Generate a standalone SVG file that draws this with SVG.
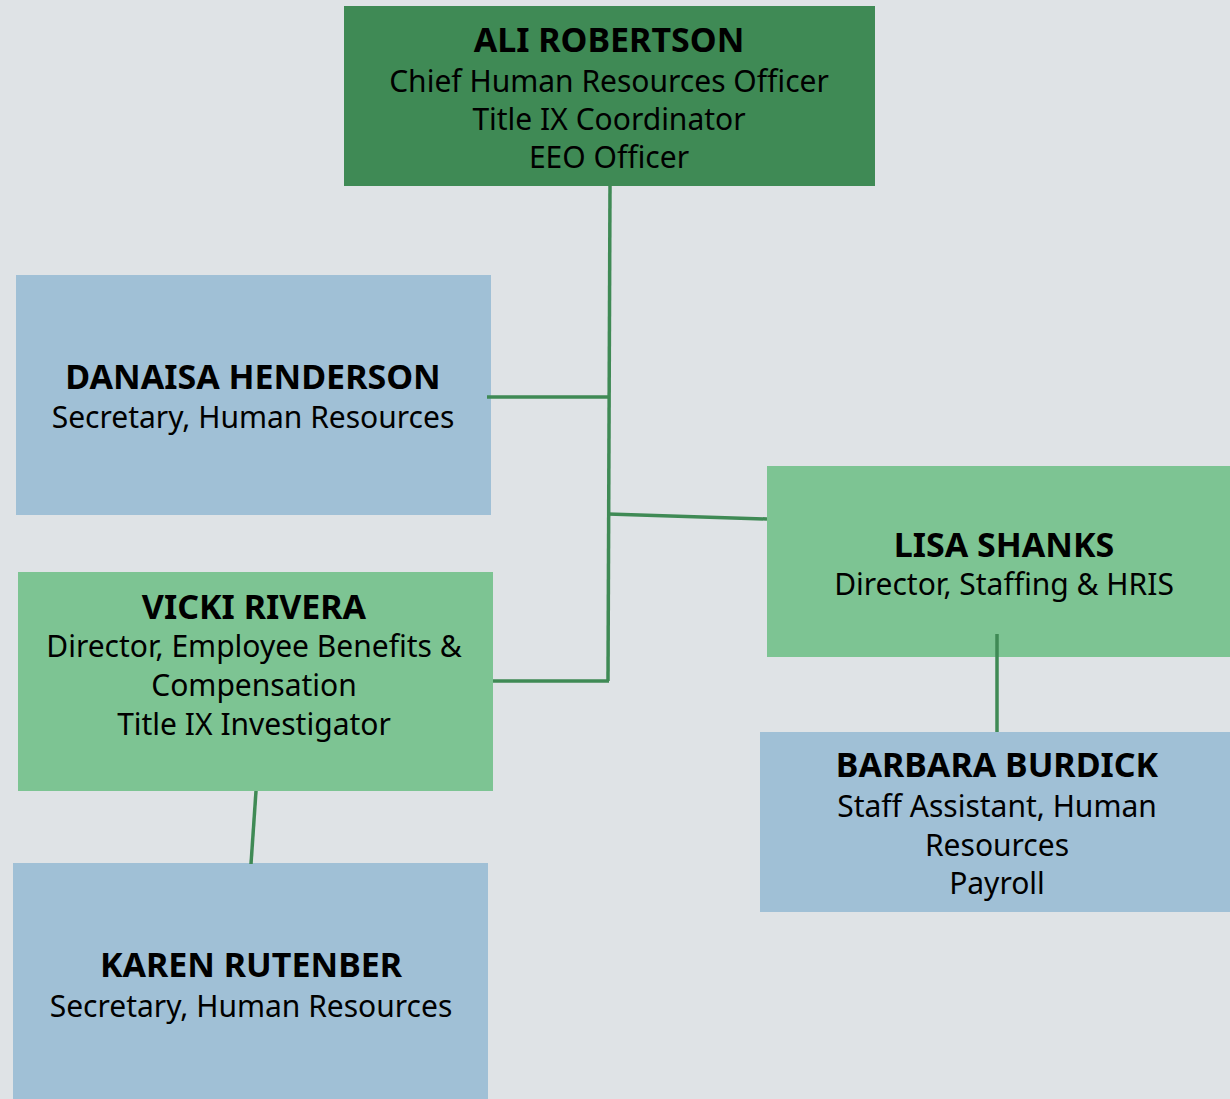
<svg xmlns="http://www.w3.org/2000/svg" width="1230" height="1099" viewBox="0 0 1230 1099">
<style>
.bg{fill:#dfe3e6}
.dk{fill:#3f8a55}
.lg{fill:#7dc493}
.bl{fill:#a0c0d6}
text{font-family:"Noto Sans","DejaVu Sans",sans-serif;fill:#000;text-anchor:middle}
.n{font-size:34px;font-weight:bold}
.s{font-size:30px}
.c{stroke:#3f8a55;stroke-width:3.5;fill:none;stroke-linecap:butt}
</style>
<rect class="bg" x="0" y="0" width="1230" height="1099"/>
<g id="ali">
<rect class="dk" x="344" y="6" width="531" height="180"/>
<text class="n" x="609" y="52">ALI ROBERTSON</text>
<text class="s" x="609" y="92">Chief Human Resources Officer</text>
<text class="s" x="609" y="130">Title IX Coordinator</text>
<text class="s" x="609" y="168">EEO Officer</text>
</g>
<g id="danaisa">
<rect class="bl" x="16" y="275" width="475" height="240"/>
<text class="n" x="253" y="389">DANAISA HENDERSON</text>
<text class="s" x="253" y="428">Secretary, Human Resources</text>
</g>
<g id="lisa">
<rect class="lg" x="767" y="466" width="463" height="191"/>
<text class="n" x="1004" y="557">LISA SHANKS</text>
<text class="s" x="1004" y="595">Director, Staffing &amp; HRIS</text>
</g>
<g id="vicki">
<rect class="lg" x="18" y="572" width="475" height="219"/>
<text class="n" x="254" y="619">VICKI RIVERA</text>
<text class="s" x="254" y="657">Director, Employee Benefits &amp;</text>
<text class="s" x="254" y="696">Compensation</text>
<text class="s" x="254" y="735">Title IX Investigator</text>
</g>
<g id="barbara">
<rect class="bl" x="760" y="732" width="470" height="180"/>
<text class="n" x="997" y="777">BARBARA BURDICK</text>
<text class="s" x="997" y="817">Staff Assistant, Human</text>
<text class="s" x="997" y="856">Resources</text>
<text class="s" x="997" y="894">Payroll</text>
</g>
<g id="karen">
<rect class="bl" x="13" y="863" width="475" height="236"/>
<text class="n" x="251" y="977">KAREN RUTENBER</text>
<text class="s" x="251" y="1017">Secretary, Human Resources</text>
</g>
<g id="connectors">
<path class="c" d="M610 186 L608 681"/>
<path class="c" d="M487 397 L610 397"/>
<path class="c" d="M608 514 L767 519"/>
<path class="c" d="M493 681 L609 681"/>
<path class="c" d="M997 634 L997 732"/>
<path class="c" d="M256 791 L251 864"/>
</g>
</svg>
